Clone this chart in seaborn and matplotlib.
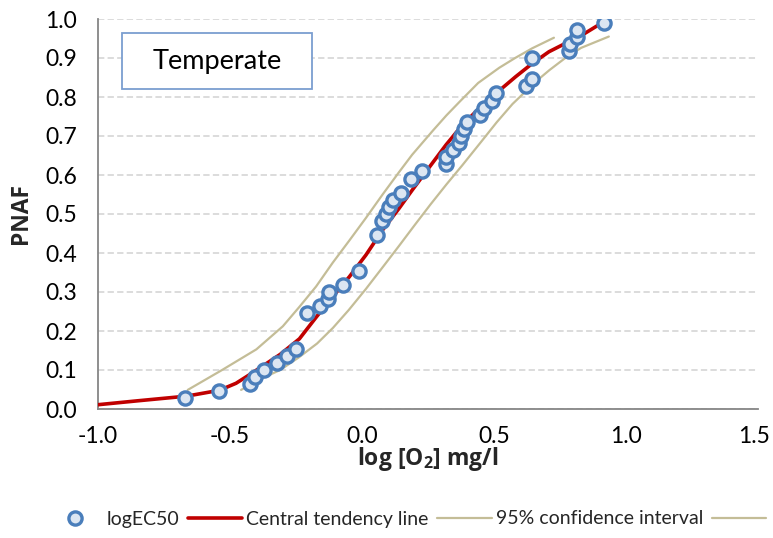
import matplotlib
matplotlib.use("Agg")
import matplotlib.pyplot as plt
import matplotlib.transforms as mtransforms
import seaborn as sns
import pandas as pd
from matplotlib.lines import Line2D

# ---- data ----
log_ec50 = [-0.672, -0.542, -0.426, -0.405, -0.373, -0.321, -0.284, -0.250,
            -0.208, -0.158, -0.130, -0.124, -0.073, -0.010, 0.055, 0.076,
            0.090, 0.102, 0.118, 0.147, 0.185, 0.229, 0.318, 0.320, 0.343,
            0.368, 0.374, 0.387, 0.399, 0.446, 0.463, 0.494, 0.509, 0.623,
            0.643, 0.645, 0.784, 0.787, 0.813, 0.815, 0.918]
pnaf = [0.028, 0.046, 0.064, 0.082, 0.100, 0.118, 0.137, 0.155,
        0.246, 0.264, 0.282, 0.300, 0.318, 0.355, 0.446, 0.482,
        0.500, 0.518, 0.537, 0.555, 0.591, 0.609, 0.628, 0.646, 0.664,
        0.682, 0.700, 0.718, 0.737, 0.755, 0.773, 0.791, 0.809, 0.827,
        0.846, 0.900, 0.918, 0.937, 0.955, 0.973, 0.991]

central_x = [-1.0, -0.85, -0.664, -0.54, -0.477, -0.426, -0.37, -0.31, -0.237,
             -0.174, -0.111, -0.048, 0.015, 0.078, 0.141, 0.191, 0.255,
             0.318, 0.38, 0.444, 0.507, 0.582, 0.645, 0.708, 0.772, 0.834, 0.916]
central_y = [0.011, 0.021, 0.033, 0.048, 0.066, 0.088, 0.113, 0.14, 0.180,
             0.235, 0.288, 0.339, 0.395, 0.459, 0.515, 0.562, 0.620,
             0.677, 0.728, 0.771, 0.809, 0.852, 0.886, 0.916, 0.938, 0.959, 0.993]

upper_x = [-0.66, -0.53, -0.40, -0.30, -0.237, -0.174, -0.111, -0.048, 0.015,
           0.078, 0.141, 0.19, 0.27, 0.32, 0.37, 0.44, 0.52, 0.58, 0.645, 0.727]
upper_y = [0.049, 0.100, 0.153, 0.212, 0.262, 0.314, 0.375, 0.432, 0.490,
           0.550, 0.608, 0.652, 0.715, 0.753, 0.788, 0.836, 0.875, 0.900, 0.925, 0.952]

lower_x = [-0.458, -0.40, -0.31, -0.24, -0.17, -0.11, -0.05, 0.015, 0.08, 0.14,
           0.20, 0.26, 0.32, 0.38, 0.45, 0.51, 0.57, 0.61, 0.645, 0.71, 0.77,
           0.83, 0.935]
lower_y = [0.049, 0.072, 0.100, 0.132, 0.168, 0.208, 0.254, 0.308, 0.365, 0.418,
           0.472, 0.525, 0.576, 0.625, 0.684, 0.735, 0.782, 0.808, 0.832, 0.869,
           0.900, 0.926, 0.955]

x_ticks = [-1.0, -0.5, 0.0, 0.5, 1.0, 1.5]
y_ticks = [0.0, 0.1, 0.2, 0.3, 0.4, 0.5, 0.6, 0.7, 0.8, 0.9, 1.0]
legend_labels = ["logEC50", "Central tendency line", "95% confidence interval", ""]
box_text = "Temperate"

# ---- style ----
sns.set_theme(style="white")
plt.rcParams["font.family"] = ["Lato", "DejaVu Sans"]
plt.rcParams["mathtext.fontset"] = "custom"
plt.rcParams["mathtext.rm"] = "Open Sans:bold"
plt.rcParams["mathtext.default"] = "rm"

RED = "#C00000"
TAN = "#C4BD97"
EDGE = "#4A7EBB"
FACE = "#DCE6F2"
AXC = "#868686"
BOLD_FAMILY = ["Open Sans", "DejaVu Sans"]

fig = plt.figure(figsize=(7.73, 5.38), dpi=100)
ax = fig.add_axes([98 / 773, 1 - 409 / 538, 660 / 773, 390 / 538])

df_c = pd.DataFrame({"x": central_x, "y": central_y})
df_u = pd.DataFrame({"x": upper_x, "y": upper_y})
df_l = pd.DataFrame({"x": lower_x, "y": lower_y})
df_p = pd.DataFrame({"x": log_ec50, "y": pnaf})

sns.lineplot(data=df_u, x="x", y="y", ax=ax, color=TAN, lw=1.6, sort=False,
             estimator=None, zorder=2)
sns.lineplot(data=df_l, x="x", y="y", ax=ax, color=TAN, lw=1.6, sort=False,
             estimator=None, zorder=2)
sns.lineplot(data=df_c, x="x", y="y", ax=ax, color=RED, lw=2.6, sort=False,
             estimator=None, zorder=3)
ax.plot(df_p["x"], df_p["y"], linestyle="none", marker="o", ms=9.5,
        mfc=FACE, mec=EDGE, mew=2.4, zorder=4)

ax.set_xlim(-1.0, 1.5)
ax.set_ylim(0.0, 1.0)
ax.set_xticks(x_ticks)
ax.set_yticks(y_ticks)
ax.set_xticklabels([f"{v:.1f}" for v in x_ticks])
ax.set_yticklabels([f"{v:.1f}" for v in y_ticks])

ax.yaxis.grid(True, color="#D9D9D9", lw=1.3, linestyle=(0, (3.5, 1.8)))
ax.xaxis.grid(False)
ax.set_axisbelow(True)
for s in ["top", "right"]:
    ax.spines[s].set_visible(False)
for s in ["left", "bottom"]:
    ax.spines[s].set_color(AXC)
    ax.spines[s].set_linewidth(1.3)
ax.tick_params(axis="both", direction="out", length=6, width=1.3, color=AXC,
               labelsize=16.5, labelcolor="black")
ax.tick_params(axis="y", pad=9)
ax.tick_params(axis="x", pad=6)
ax.spines["bottom"].set_zorder(5)

# keep the last x tick label inside the figure edge
last = ax.get_xticklabels()[-1]
last.set_transform(last.get_transform() +
                   mtransforms.ScaledTranslation(-4 / 100, 0, fig.dpi_scale_trans))

ax.set_xlabel("log [O$_2$] mg/l", fontsize=16.5, fontweight="bold",
              family=BOLD_FAMILY)
ax.set_ylabel("PNAF", fontsize=16.5, fontweight="bold", family=BOLD_FAMILY)
ax.xaxis.set_label_coords(0.5, -0.093)
ax.yaxis.set_label_coords(-0.098, 0.5)

# Text box
box = plt.Rectangle(((122 - 98) / 660, (409 - 89) / 390), 190 / 660, 56 / 390,
                    transform=ax.transAxes, fc="white", ec="#7B9ED0", lw=1.3,
                    zorder=5)
ax.add_patch(box)
ax.text((217 - 98) / 660, (409 - 61) / 390, box_text,
        transform=ax.transAxes, ha="center", va="center", fontsize=19.5,
        color="black", zorder=6)

handles = [
    Line2D([], [], linestyle="none", marker="o", ms=9.5, mfc=FACE, mec=EDGE, mew=2.4),
    Line2D([], [], color=RED, lw=2.6),
    Line2D([], [], color=TAN, lw=1.6),
    Line2D([], [], color=TAN, lw=1.6),
]
fig.legend(handles, legend_labels, loc="center left",
           bbox_to_anchor=(48 / 773, 1 - 519 / 538), ncol=4, frameon=False,
           fontsize=14, handlelength=2.8, handletextpad=0.2,
           columnspacing=0.45, borderpad=0, borderaxespad=0)

fig.savefig("out.png", dpi=100)
